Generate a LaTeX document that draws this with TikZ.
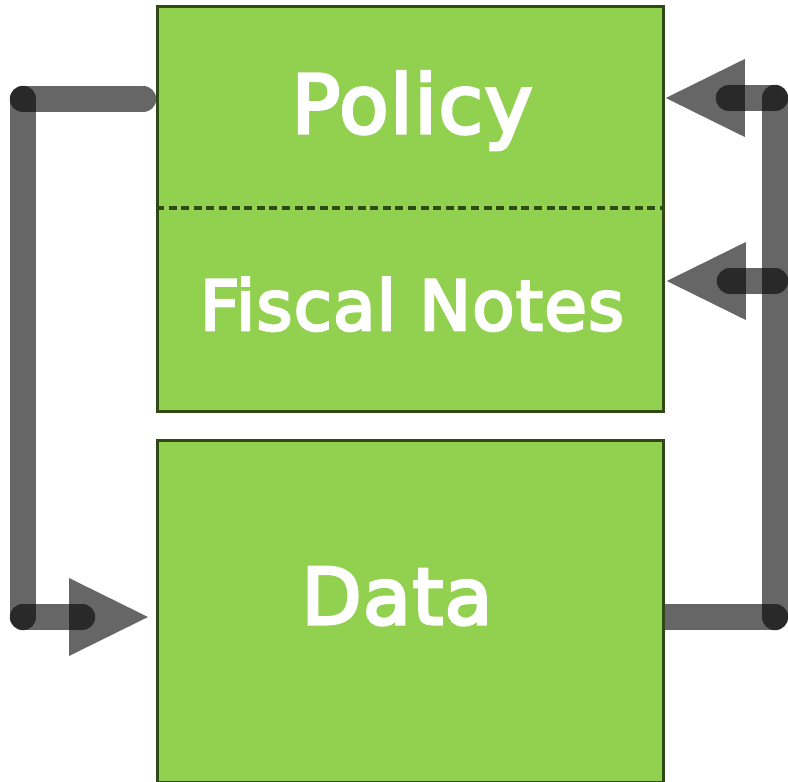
\documentclass[tikz,border=0pt]{standalone}
\usepackage{fontspec}
\setmainfont{DejaVu Sans}
\newfontfamily\lblfont[FakeBold=4,LetterSpace=2]{DejaVu Sans}
\usetikzlibrary{backgrounds}
\definecolor{boxgreen}{HTML}{92D050}
\definecolor{boxedge}{HTML}{2F4A14}
\begin{document}
\begin{tikzpicture}[x=1pt,y=-1pt,
  box/.style={draw=boxedge, line width=2.8pt, fill=boxgreen, inner sep=0pt, anchor=north west},
  conn/.style={draw=black, draw opacity=0.6, line width=26.5pt, line cap=round},
  head/.style={fill=black, fill opacity=0.6},
  label/.style={text=white, anchor=base, inner sep=0pt},
  sep/.style={draw=boxedge, line width=3.4pt, dash pattern=on 8pt off 4.6pt}]
\useasboundingbox (0,0) rectangle (788,782);
% boxes
\node[box, minimum width=506pt, minimum height=405pt] (top) at (156,5) {};
\node[box, minimum width=506pt, minimum height=342pt] (data) at (156,439) {};
\draw[sep] (top.west |- 0,208) -- (top.east |- 0,208);
\node[label, font=\lblfont\fontsize{81}{90}\selectfont] (policy) at (412,133) {Policy};
\node[label, font=\lblfont\fontsize{69}{80}\selectfont] (fiscal) at (412,330) {Fiscal Notes};
\node[label, font=\lblfont\fontsize{78}{88}\selectfont] (datal) at (397,624) {Data};
% connector coordinates
\coordinate (L1) at (23,99);
\coordinate (L2) at (23,617);
\coordinate (L3) at (82,617);
\coordinate (R1) at (775,98);
\coordinate (R2) at (775,281);
\coordinate (R3) at (775,617);
\coordinate (R1s) at (729,98);
\coordinate (R2s) at (730,281);
\begin{scope}[on background layer]
  % left loop: policy -> data
  \draw[conn] (top.west |- L1) ++(-13,0) -- (L1);
  \draw[conn] (L1) -- (L2);
  \draw[conn] (L2) -- (L3);
  \fill[head] (data.west |- L2) ++(-8,0) -- ++(-79,-39) -- ++(0,78) -- cycle;
  % right loop: data -> policy, fiscal notes
  \draw[conn] (data.east |- R3) -- (R3);
  \draw[conn] (R3) -- (R1);
  \draw[conn] (R1) -- (R1s);
  \draw[conn] (R2) -- (R2s);
  \fill[head] (top.east |- R1) ++(1,0) -- ++(79,-39) -- ++(0,78) -- cycle;
  \fill[head] (top.east |- R2) ++(2,0) -- ++(79,-39) -- ++(0,78) -- cycle;
\end{scope}
\end{tikzpicture}
\end{document}
